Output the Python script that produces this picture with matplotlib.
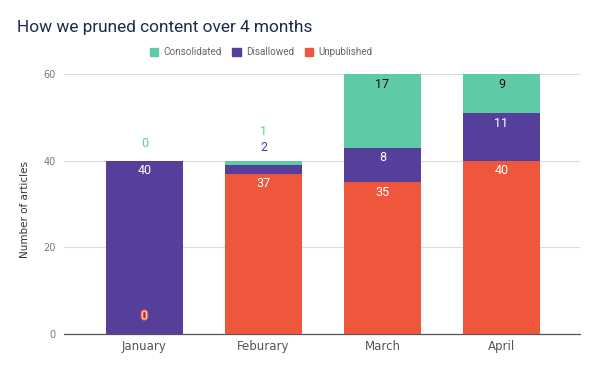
import matplotlib
matplotlib.use("Agg")
import matplotlib.pyplot as plt
import matplotlib.patheffects as pe
from matplotlib.patches import Patch

months = ["January", "Feburary", "March", "April"]
unpublished = [0, 37, 35, 40]
disallowed = [40, 2, 8, 11]
consolidated = [0, 1, 17, 9]
yticks = [0, 20, 40, 60]

c_green = "#5FCBA4"
c_purple = "#553F9B"
c_red = "#EE573B"

W, H = 600, 369
fig = plt.figure(figsize=(W/100, H/100), dpi=100)
ax = fig.add_axes([64/W, 1-334/H, 516/W, 260/H])

x = list(range(len(months)))
bw = 0.65
ax.bar(x, unpublished, width=bw, color=c_red, zorder=3)
ax.bar(x, disallowed, width=bw, bottom=unpublished, color=c_purple, zorder=3)
b2 = [u + d for u, d in zip(unpublished, disallowed)]
ax.bar(x, consolidated, width=bw, bottom=b2, color=c_green, zorder=3)

ax.set_xlim(-0.676, 3.66)
ax.set_ylim(0, 60)
ax.set_yticks(yticks)
ax.set_yticklabels([str(t) for t in yticks], fontsize=7, color="#777777")
ax.set_xticks(x)
ax.set_xticklabels(months, fontsize=8.5, color="#555555")
ax.tick_params(axis="both", length=0, pad=6)
ax.tick_params(axis="x", pad=4)
ax.grid(axis="y", color="#dddddd", linewidth=0.8, zorder=0)
for s in ["top", "right", "left"]:
    ax.spines[s].set_visible(False)
ax.spines["bottom"].set_color("#555555")
ax.spines["bottom"].set_linewidth(0.9)

lab_font = dict(family=["Roboto", "DejaVu Sans"], fontsize=9, ha="center", va="center")

for i in x:
    segs = [(unpublished[i], 0, c_red), (disallowed[i], unpublished[i], c_purple),
            (consolidated[i], b2[i], c_green)]
    out_n = 0
    for k, (v, base, col) in enumerate(segs):
        if k == 0 and v == 0:
            t = ax.annotate(str(v), (i, 0), xytext=(0, 18), textcoords="offset pixels",
                            color="#fbd3cb", **lab_font, zorder=5)
            t.set_path_effects([pe.withStroke(linewidth=1.5, foreground=c_red)])
        elif v >= 5:
            tc = "#111111" if col == c_green else "white"
            ax.annotate(str(v), (i, base + v), xytext=(0, -10), textcoords="offset pixels",
                        color=tc, **lab_font, zorder=5)
        else:
            out_n += 1
            off = 13 if out_n == 1 else 29
            if i == 0:
                off = 17
            ax.annotate(str(v), (i, b2[i] + consolidated[i]), xytext=(0, off),
                        textcoords="offset pixels", color=col, **lab_font, zorder=5)

fig.text(17/W, 1-32/H, "How we pruned content over 4 months", fontsize=12.4,
         family=["Roboto", "DejaVu Sans"],
         color="#1b2a47", ha="left", va="baseline")
fig.text(25/W, 1-210/H, "Number of articles", fontsize=7.5, color="#333333",
         rotation=90, ha="center", va="center")

handles = [Patch(color=c_green, label="Consolidated"),
           Patch(color=c_purple, label="Disallowed"),
           Patch(color=c_red, label="Unpublished")]
fig.legend(handles=handles, loc="center", bbox_to_anchor=(261/W, 1-52/H), ncol=3,
           frameon=False, prop=dict(family=["Roboto", "DejaVu Sans"], size=7.1),
           handlelength=0.85, handleheight=0.85,
           handletextpad=0.5, columnspacing=1.1, labelcolor="#666666")

fig.savefig("out.png", dpi=100, facecolor="white")
